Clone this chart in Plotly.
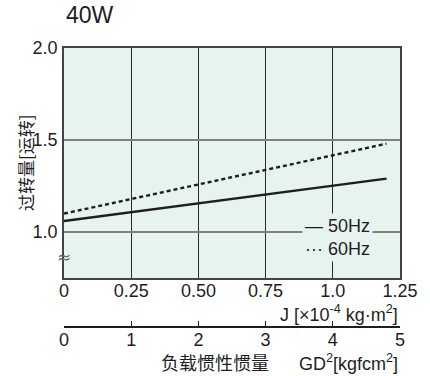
import plotly.graph_objects as go

# Overrun vs. load inertia, 40W motor
j_values = [0.0, 1.2]            # J [x10^-4 kg·m^2]
overrun_50hz = [1.06, 1.29]
overrun_60hz = [1.10, 1.48]

x_tickvals = [0, 0.25, 0.5, 0.75, 1.0, 1.25]
x_ticktext = ["0", "0.25", "0.50", "0.75", "1.0", "1.25"]
y_tickvals = [1.0, 1.5, 2.0]
y_ticktext = ["1.0", "1.5", "2.0"]
gd2_tickvals = [0, 1, 2, 3, 4, 5]

FONT = "Liberation Sans, Arial, sans-serif"
CJK = "Noto Sans CJK SC, sans-serif"
BG = "#e6f3ee"
INK = "#1e1e1e"

fig = go.Figure()
fig.add_trace(go.Scatter(x=j_values, y=overrun_50hz, mode="lines",
                         line=dict(color=INK, width=2.4), name="50Hz",
                         showlegend=False, hoverinfo="skip"))
fig.add_trace(go.Scatter(x=j_values, y=overrun_60hz, mode="lines",
                         line=dict(color=INK, width=2.4, dash="4px,3px"), name="60Hz",
                         showlegend=False, hoverinfo="skip"))
# secondary GD^2 scale shares the plot width
fig.add_trace(go.Scatter(x=[], y=[], xaxis="x2", showlegend=False, hoverinfo="skip"))

W, H = 430, 376
ml, mr, mt, mb = 64, 21, 48, 36
ph = H - mt - mb
pw = W - ml - mr
def py(pix):
    return (H - mb - pix) / ph
def px(pix):
    return (pix - ml) / pw

fig.update_layout(
    width=W, height=H,
    margin=dict(l=ml, r=mr, t=mt, b=mb),
    paper_bgcolor="white", plot_bgcolor=BG,
    font=dict(family=FONT, size=18, color=INK),
    xaxis=dict(range=[0, 1.25], tickvals=x_tickvals, ticktext=x_ticktext,
               showgrid=True, gridcolor="#2a2a2a", gridwidth=1,
               showline=True, linecolor="#444", linewidth=1.5, mirror=True,
               ticks="", zeroline=False, anchor="y", ticklabelstandoff=-4,
               tickfont=dict(family=FONT, size=18, color=INK)),
    yaxis=dict(range=[0.75, 2.0], tickvals=y_tickvals, ticktext=y_ticktext,
               domain=[py(278), 1],
               showgrid=True, gridcolor="#808080", gridwidth=2,
               showline=True, linecolor="#444", linewidth=1.5, mirror=True,
               ticks="", zeroline=False, ticklabelstandoff=1,
               tickfont=dict(family=FONT, size=18, color=INK)),
    xaxis2=dict(range=[0, 5], tickvals=gd2_tickvals, overlaying="x",
                anchor="free", position=py(327), side="bottom",
                showline=True, linecolor=INK, linewidth=1.5,
                ticks="inside", ticklen=5, tickwidth=1.2, tickcolor=INK,
                showgrid=False, zeroline=False, ticklabelstandoff=-3,
                tickfont=dict(family=FONT, size=18, color=INK)),
)

annotations = [
    dict(text="40W", x=0, y=py(15), xref="paper", yref="paper",
         xanchor="left", yanchor="middle", showarrow=False,
         font=dict(family=FONT, size=23, color=INK)),
    dict(text="过转量[运转]", x=px(24), y=py(163), xref="paper", yref="paper",
         showarrow=False, textangle=-90, xanchor="center", yanchor="middle",
         font=dict(family=CJK, size=17, color=INK)),
    dict(text="≈", x=px(64), y=py(257), xref="paper", yref="paper",
         showarrow=False, xanchor="center", yanchor="middle",
         font=dict(family="DejaVu Sans, sans-serif", size=17, color="#666")),
    dict(text="— 50Hz<br>··· 60Hz", x=px(345), y=py(237), xref="paper", yref="paper",
         showarrow=False, xanchor="center", yanchor="middle", align="left",
         bgcolor=BG, borderpad=2,
         font=dict(family=FONT, size=18, color=INK)),
    dict(text="J [×10<sup>-4</sup> kg·m<sup>2</sup>]", x=1, y=py(313),
         xref="paper", yref="paper", xanchor="right", yanchor="middle",
         showarrow=False, font=dict(family=FONT, size=18, color=INK)),
    dict(text="负载惯性惯量", x=px(219), y=py(362), xref="paper", yref="paper",
         xanchor="center", yanchor="middle", showarrow=False,
         font=dict(family=CJK, size=18, color=INK)),
    dict(text="GD<sup>2</sup>[kgfcm<sup>2</sup>]", x=1, y=py(362),
         xref="paper", yref="paper", xanchor="right", yanchor="middle",
         showarrow=False, font=dict(family=FONT, size=18, color=INK)),
]
fig.update_layout(annotations=annotations)

fig.write_html("out.html")
